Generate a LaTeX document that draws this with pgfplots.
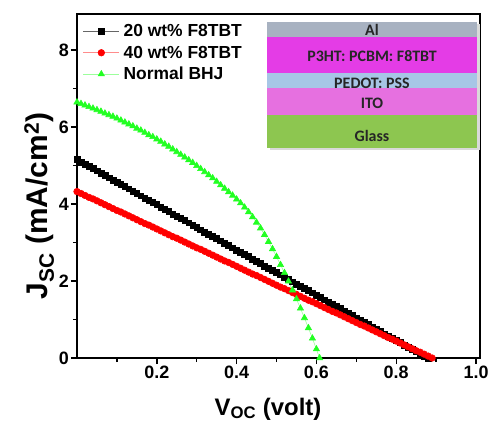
\documentclass[border=0pt]{standalone}
\usepackage{pgfplots}
\pgfplotsset{compat=1.18}
\usepackage{fontspec}
\setmainfont{Liberation Sans}
\newfontfamily\calib{Carlito}
\definecolor{alcol}{HTML}{A8B2C1}
\definecolor{p3col}{HTML}{E43CE6}
\definecolor{pedcol}{HTML}{A7C6E6}
\definecolor{itocol}{HTML}{E670E0}
\definecolor{glcol}{HTML}{8DC650}
\definecolor{mygreen}{HTML}{22FF22}
\begin{document}
\begin{tikzpicture}
\begin{axis}[
  scale only axis, width=403bp, height=344bp,
  anchor=south west, at={(0,0)},
  xmin=0, xmax=1.01, ymin=0, ymax=8.93,
  axis line style={line width=1.6bp},
  xtick={0.2,0.4,0.6,0.8,1.0}, xticklabels={0.2,0.4,0.6,0.8,1.0},
  minor xtick={0.1,0.3,0.5,0.7,0.9},
  ytick={0,2,4,6,8}, yticklabels={0,2,4,6,8},
  minor ytick={1,3,5,7},
  xtick pos=left, ytick pos=left,
  tick align=outside,
  major tick length=6bp, minor tick length=4bp,
  every tick/.style={black, line width=1.4bp},
  ticklabel style={font=\fontsize{18}{18}\selectfont\bfseries},
  xticklabel style={inner sep=2bp},
  yticklabel style={inner sep=2bp},
  every axis x label/.style={at={(axis description cs:0.474,-0.166)}, anchor=base, font=\fontsize{24}{24}\selectfont\bfseries},
  every axis y label/.style={at={(axis description cs:-0.094,0.442)}, rotate=90, anchor=center, font=\fontsize{30}{30}\selectfont\bfseries},
  xlabel={V\textsubscript{OC} (volt)},
  ylabel={J\textsubscript{SC} (mA/cm\textsuperscript{2})},
  legend style={at={(axis description cs:0.012,0.978)}, anchor=north west, draw=none, fill=none,
    font=\fontsize{17.5}{17.5}\selectfont\bfseries, row sep=3.5bp, inner sep=1bp,
    nodes={inner xsep=4bp}},
  legend cell align=left,
  legend image code/.code={\draw[mark repeat=2,mark phase=2,#1] plot coordinates {(0bp,0bp) (18bp,0bp) (36bp,0bp)};},
]
\addplot[draw=black!60, line width=0.6bp, mark=square*, mark size=2.9bp, mark options={draw=black, fill=black, solid}] coordinates {
(0.00,5.15) (0.01,5.09) (0.02,5.03) (0.03,4.97) (0.04,4.92) (0.05,4.86) (0.06,4.80) (0.07,4.74) (0.08,4.68) (0.09,4.62)
(0.10,4.56) (0.11,4.50) (0.12,4.45) (0.13,4.39) (0.14,4.33) (0.15,4.27) (0.16,4.21) (0.17,4.15) (0.18,4.09) (0.19,4.04)
(0.20,3.98) (0.21,3.92) (0.22,3.86) (0.23,3.80) (0.24,3.74) (0.25,3.68) (0.26,3.63) (0.27,3.57) (0.28,3.51) (0.29,3.45)
(0.30,3.39) (0.31,3.33) (0.32,3.27) (0.33,3.21) (0.34,3.16) (0.35,3.10) (0.36,3.04) (0.37,2.98) (0.38,2.92) (0.39,2.86)
(0.40,2.80) (0.41,2.75) (0.42,2.69) (0.43,2.63) (0.44,2.57) (0.45,2.51) (0.46,2.45) (0.47,2.39) (0.48,2.33) (0.49,2.28)
(0.50,2.22) (0.51,2.16) (0.52,2.10) (0.53,2.04) (0.54,1.98) (0.55,1.92) (0.56,1.87) (0.57,1.81) (0.58,1.75) (0.59,1.69)
(0.60,1.63) (0.61,1.57) (0.62,1.51) (0.63,1.45) (0.64,1.40) (0.65,1.34) (0.66,1.28) (0.67,1.22) (0.68,1.16) (0.69,1.10)
(0.70,1.04) (0.71,0.99) (0.72,0.93) (0.73,0.87) (0.74,0.81) (0.75,0.75) (0.76,0.69) (0.77,0.63) (0.78,0.57) (0.79,0.52)
(0.80,0.46) (0.81,0.40) (0.82,0.34) (0.83,0.28) (0.84,0.22) (0.85,0.16) (0.86,0.11) (0.87,0.05) (0.88,0.00)
};
\addlegendentry{20 wt\% F8TBT}
\addplot[draw=red!45, line width=0.6bp, mark=*, mark size=3.3bp, mark options={draw=red, fill=red, solid}] coordinates {
(0.00,4.32) (0.01,4.27) (0.02,4.22) (0.03,4.17) (0.04,4.13) (0.05,4.08) (0.06,4.03) (0.07,3.98) (0.08,3.93) (0.09,3.88)
(0.10,3.83) (0.11,3.79) (0.12,3.74) (0.13,3.69) (0.14,3.64) (0.15,3.59) (0.16,3.54) (0.17,3.49) (0.18,3.45) (0.19,3.40)
(0.20,3.35) (0.21,3.30) (0.22,3.25) (0.23,3.20) (0.24,3.15) (0.25,3.11) (0.26,3.06) (0.27,3.01) (0.28,2.96) (0.29,2.91)
(0.30,2.86) (0.31,2.82) (0.32,2.77) (0.33,2.72) (0.34,2.67) (0.35,2.62) (0.36,2.57) (0.37,2.52) (0.38,2.48) (0.39,2.43)
(0.40,2.38) (0.41,2.33) (0.42,2.28) (0.43,2.23) (0.44,2.18) (0.45,2.14) (0.46,2.09) (0.47,2.04) (0.48,1.99) (0.49,1.94)
(0.50,1.89) (0.51,1.84) (0.52,1.80) (0.53,1.75) (0.54,1.70) (0.55,1.65) (0.56,1.60) (0.57,1.55) (0.58,1.50) (0.59,1.46)
(0.60,1.41) (0.61,1.36) (0.62,1.31) (0.63,1.26) (0.64,1.21) (0.65,1.17) (0.66,1.12) (0.67,1.07) (0.68,1.02) (0.69,0.97)
(0.70,0.92) (0.71,0.87) (0.72,0.83) (0.73,0.78) (0.74,0.73) (0.75,0.68) (0.76,0.63) (0.77,0.58) (0.78,0.53) (0.79,0.49)
(0.80,0.44) (0.81,0.39) (0.82,0.34) (0.83,0.29) (0.84,0.24) (0.85,0.19) (0.86,0.15) (0.87,0.10) (0.88,0.05) (0.89,0.00)
};
\addlegendentry{40 wt\% F8TBT}
\addplot[draw=mygreen!45, line width=0.6bp, mark=triangle*, mark size=3.6bp, mark options={draw=mygreen, fill=mygreen, solid}] coordinates {
(0.00,6.64) (0.01,6.60) (0.02,6.56) (0.03,6.52) (0.04,6.48) (0.05,6.44) (0.06,6.40) (0.07,6.35) (0.08,6.31) (0.09,6.27)
(0.10,6.22) (0.11,6.17) (0.12,6.12) (0.13,6.07) (0.14,6.02) (0.15,5.96) (0.16,5.91) (0.17,5.85) (0.18,5.79) (0.19,5.74)
(0.20,5.68) (0.21,5.62) (0.22,5.55) (0.23,5.49) (0.24,5.42) (0.25,5.35) (0.26,5.28) (0.27,5.21) (0.28,5.14) (0.29,5.07)
(0.30,4.99) (0.31,4.91) (0.32,4.83) (0.33,4.75) (0.34,4.67) (0.35,4.58) (0.36,4.49) (0.37,4.40) (0.38,4.31) (0.39,4.22)
(0.40,4.12) (0.41,4.02) (0.42,3.91) (0.43,3.79) (0.44,3.66) (0.45,3.52) (0.46,3.37) (0.47,3.20) (0.48,3.02) (0.49,2.83)
(0.50,2.63) (0.51,2.42) (0.52,2.21) (0.53,1.99) (0.54,1.76) (0.55,1.53) (0.56,1.29) (0.57,1.04) (0.58,0.78) (0.59,0.51)
(0.60,0.23) (0.608,0.0)
};
\addlegendentry{Normal BHJ}
\end{axis}
% device stack inset (1px = 1bp, origin at axis lower-left)
\fill[black!15] (192.5bp,207.5bp) rectangle (402.5bp,334bp);
\fill[alcol] (190bp,336bp) rectangle (400bp,321bp);
\fill[p3col] (190bp,321bp) rectangle (400bp,285bp);
\fill[pedcol] (190bp,285bp) rectangle (400bp,270bp);
\fill[itocol] (190bp,270bp) rectangle (400bp,243bp);
\fill[glcol] (190bp,243bp) rectangle (400bp,210bp);
\begin{scope}[every node/.style={font=\calib\fontsize{16}{16}\selectfont\bfseries, text=black!85, inner sep=0pt}]
\node at (295bp,328.5bp) {Al};
\node at (295bp,302bp) {P3HT: PCBM: F8TBT};
\node at (295bp,275bp) {PEDOT: PSS};
\node at (295bp,255bp) {ITO};
\node at (295bp,222bp) {Glass};
\end{scope}
\pgfresetboundingbox
\path (-77bp,-69bp) rectangle (415bp,358bp);
\end{tikzpicture}
\end{document}
